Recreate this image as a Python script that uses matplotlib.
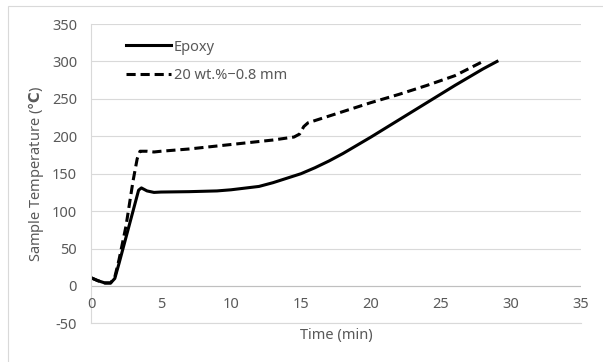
import numpy as np
import matplotlib.pyplot as plt
from matplotlib.patches import Rectangle

# data
t_epoxy = [0, 0.5, 1, 1.4, 1.7, 2, 2.5, 3, 3.4, 3.6, 4, 4.5, 5, 7, 9, 10, 12, 13, 14, 15,
           16, 17, 18, 19, 20, 22, 24, 26, 28, 29]
T_epoxy = [11, 7, 4, 4, 10, 30, 65, 100, 128, 131, 127, 125, 125.5, 126, 127, 128.5, 133, 138, 144, 150,
           158, 167, 177, 188, 199, 222, 245, 268, 290, 300]

t_comp = [0, 0.5, 1, 1.4, 1.7, 2, 2.5, 3, 3.3, 3.5, 4, 4.5, 5, 7, 10, 13, 14.5, 14.9, 15.2, 15.5,
          16, 18, 20, 22, 24, 26, 28]
T_comp = [11, 7, 4, 4, 12, 35, 80, 140, 170, 180, 180, 179, 180, 183, 189, 195, 199, 203, 213, 218,
          221, 233, 245, 256, 268, 281, 300]

xticks = [0, 5, 10, 15, 20, 25, 30, 35]
yticks = [-50, 0, 50, 100, 150, 200, 250, 300, 350]

plt.rcParams['font.family'] = ['Noto Sans', 'DejaVu Sans']
plt.rcParams['mathtext.fontset'] = 'custom'
plt.rcParams['mathtext.bf'] = 'DejaVu Sans:bold'
plt.rcParams['axes.unicode_minus'] = False
txt = '#595959'
fs = 10.5

fig = plt.figure(figsize=(6.03, 3.62), dpi=100)
# chart area border (runs off the right and bottom of the image)
fig.patches.append(Rectangle((8/603, -0.05), 1.1, 1 - 6/362 + 0.05, transform=fig.transFigure,
                             fill=False, edgecolor='#d9d9d9', linewidth=0.8))
ax = fig.add_axes([91/603, 1 - 323.4/362, 490/603, (323.4 - 24)/362])

ax.plot(t_epoxy, T_epoxy, color='black', lw=2.2, label='Epoxy')
ax.plot(t_comp, T_comp, color='black', lw=2.2, ls=(0, (3, 1.6)), label='20 wt.%−0.8 mm')

ax.set_xlim(0, 35)
ax.set_ylim(-50, 350)
ax.set_yticks(yticks)
ax.set_xticks([])
ax.grid(axis='y', color='#d9d9d9', lw=0.8)
ax.set_axisbelow(True)
for s in ['top', 'right']:
    ax.spines[s].set_visible(False)
ax.spines['left'].set_color('#d9d9d9')
ax.spines['bottom'].set_color('#d9d9d9')
ax.axhline(0, color='#bfbfbf', lw=0.8, zorder=1)
ax.tick_params(length=0, labelsize=fs, labelcolor=txt, pad=10)
# x tick labels sit just below the zero line
for x in xticks:
    ax.text(x, -25, str(x), ha='center', va='center', fontsize=fs, color=txt)

fig.text(336/603, 1 - 336/362, 'Time (min)', ha='center', va='center', fontsize=fs, color=txt)
ax.set_ylabel(r'Sample Temperature ($\mathbf{℃}$)', fontsize=fs, color=txt, labelpad=4)

ax.legend(loc='upper left', bbox_to_anchor=(0.044, 0.992), frameon=False, fontsize=fs,
          handlelength=3.1, handletextpad=0.2, labelcolor=txt, labelspacing=0.9)

fig.savefig('out.png', dpi=100)
